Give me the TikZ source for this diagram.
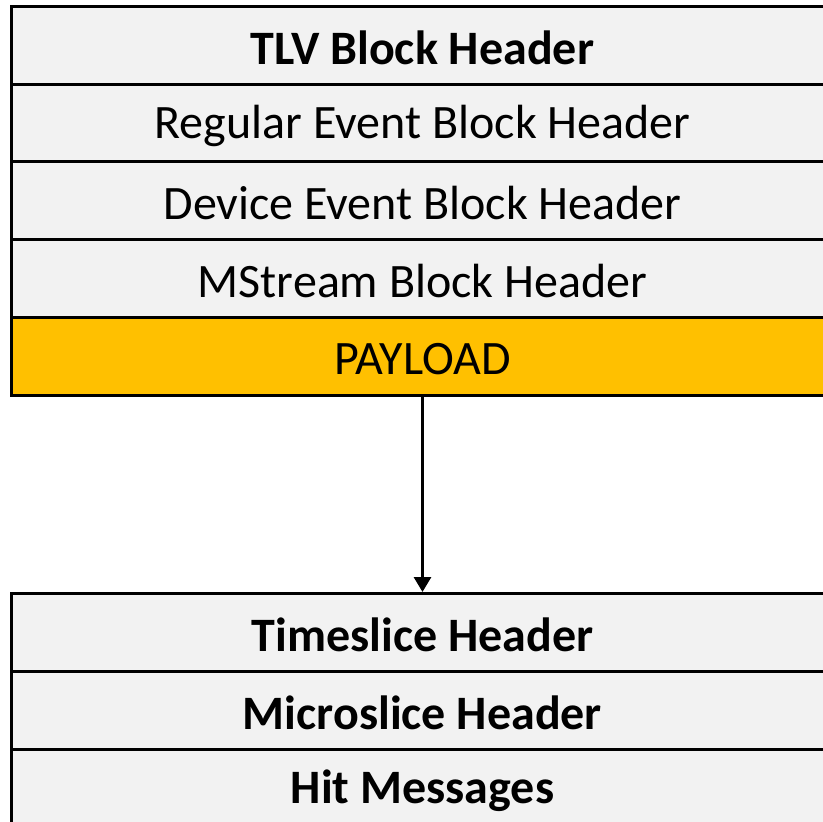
\documentclass[tikz,border=0pt]{standalone}
\usepackage{fontspec}
\setmainfont{Carlito}
\usetikzlibrary{arrows.meta}
\definecolor{rowgray}{HTML}{F2F2F2}
\definecolor{payorange}{HTML}{FFC000}
\newcommand{\rowtext}[1]{\raisebox{-2.5pt}[\height][\depth]{#1}}
\tikzset{
  row/.style={draw=black, line width=3pt, fill=rowgray, minimum width=822pt, minimum height=77.7pt, inner sep=0pt, anchor=north west, font=\fontsize{48}{56}\selectfont},
  payrow/.style={row, fill=payorange},
  conn/.style={line width=3pt, -{Triangle[width=17pt,length=15pt]}}
}
\begin{document}
\begin{tikzpicture}[x=1pt,y=-1pt]
\useasboundingbox (0,0) rectangle (823,822);
\node[row] (tlv) at (10,5) {\rowtext{\bfseries TLV Block Header}};
\node[row] (reg) at (10,82.7) {\rowtext{Regular Event Block Header}};
\node[row] (dev) at (10,160.4) {\rowtext{Device Event Block Header}};
\node[row] (ms) at (10,238.1) {\rowtext{MStream Block Header}};
\node[payrow] (pay) at (10,315.8) {\rowtext{PAYLOAD}};
\node[row] (ts) at (10,592) {\rowtext{\bfseries Timeslice Header}};
\node[row] (mic) at (10,670) {\rowtext{\bfseries Microslice Header}};
\node[row] (hit) at (10,748) {\rowtext{\bfseries Hit Messages}};
\draw[conn] (pay.south) -- (ts.north);
\end{tikzpicture}
\end{document}
